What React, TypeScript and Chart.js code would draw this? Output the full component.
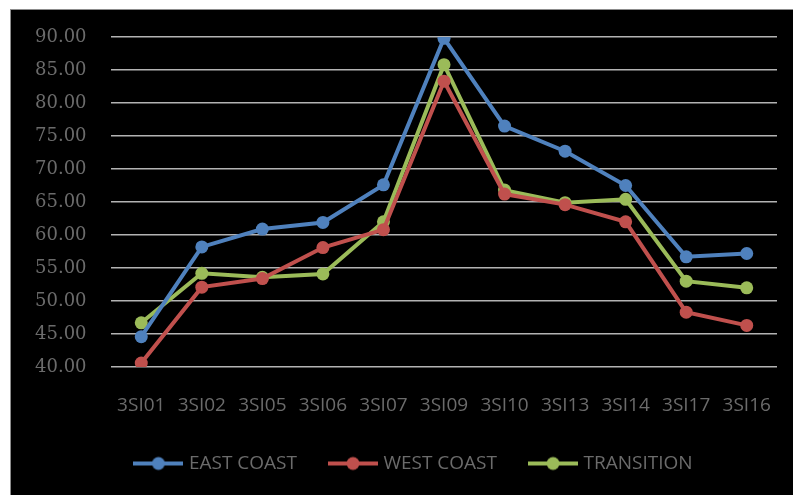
import { useEffect, useRef } from 'react';
import { Chart, registerables } from 'chart.js';

Chart.register(...registerables);

const stations = ['3SI01', '3SI02', '3SI05', '3SI06', '3SI07', '3SI09', '3SI10', '3SI13', '3SI14', '3SI17', '3SI16'];
const eastCoast = [44.6, 58.2, 60.9, 61.9, 67.6, 89.8, 76.5, 72.7, 67.5, 56.7, 57.2];
const westCoast = [40.6, 52.1, 53.4, 58.1, 60.8, 83.3, 66.2, 64.6, 62.0, 48.3, 46.3];
const transition = [46.7, 54.2, 53.6, 54.1, 62.0, 85.8, 66.8, 64.9, 65.4, 53.0, 52.0];

const labelColor = '#6b6b6b';

// line + dot sample used as the legend point style
const legendMarker = (color: string) => {
    const c = document.createElement('canvas');
    c.width = 50;
    c.height = 16;
    const g = c.getContext('2d');
    if (g) {
        g.strokeStyle = color;
        g.lineWidth = 4;
        g.beginPath();
        g.moveTo(0, 8);
        g.lineTo(50, 8);
        g.stroke();
        g.fillStyle = color;
        g.beginPath();
        g.arc(25, 8, 6.5, 0, Math.PI * 2);
        g.fill();
    }
    return c;
};

const series = [
    { label: 'EAST COAST', data: eastCoast, color: '#4f81bd' },
    { label: 'WEST COAST', data: westCoast, color: '#c0504d' },
    { label: 'TRANSITION', data: transition, color: '#9bbb59' },
];

const App = () => {
    const chartRef = useRef<HTMLCanvasElement | null>(null);

    useEffect(() => {
        if (!chartRef.current) return;
        const ctx = chartRef.current.getContext('2d');
        if (!ctx) return;

        const markers = series.map(s => legendMarker(s.color));

        const myChart = new Chart(ctx, {
            type: 'line',
            data: {
                labels: stations,
                datasets: series.map(s => ({
                    label: s.label,
                    data: s.data,
                    borderColor: s.color,
                    backgroundColor: s.color,
                    pointBackgroundColor: s.color,
                    pointBorderWidth: 0,
                    pointRadius: 6.5,
                    borderWidth: 4,
                    tension: 0,
                })),
            },
            options: {
                responsive: false,
                animation: false,
                layout: { padding: { left: 42, right: 16, top: 27, bottom: 12 } },
                scales: {
                    x: {
                        offset: true,
                        grid: { display: false, drawTicks: true, tickLength: 27 },
                        border: { display: false },
                        ticks: {
                            color: labelColor,
                            padding: 0,
                            font: { family: 'Open Sans', size: 19 },
                            maxRotation: 0,
                        },
                        afterFit: (scale) => { scale.height = 52; },
                    },
                    y: {
                        min: 40,
                        max: 90,
                        grid: { color: '#b3b3b3', lineWidth: 1.5, drawTicks: false },
                        border: { display: false },
                        ticks: {
                            stepSize: 5,
                            color: labelColor,
                            mirror: true,
                            padding: -76,
                            font: { family: 'DejaVu Serif', size: 18 },
                            callback: (v) => Number(v).toFixed(2),
                        },
                        afterFit: (scale) => { scale.width = 58; },
                    },
                },
                plugins: {
                    tooltip: { enabled: false },
                    legend: {
                        position: 'bottom',
                        labels: {
                            usePointStyle: true,
                            pointStyleWidth: 42,
                            padding: 35,
                            color: labelColor,
                            font: { family: 'Open Sans', size: 19 },
                            generateLabels: (chart) =>
                                chart.data.datasets.map((ds, i) => ({
                                    text: ds.label as string,
                                    datasetIndex: i,
                                    pointStyle: markers[i],
                                    fillStyle: series[i].color,
                                    strokeStyle: series[i].color,
                                    lineWidth: 0,
                                    fontColor: labelColor,
                                    hidden: false,
                                })),
                        },
                    },
                },
            },
        });

        return () => {
            myChart.destroy();
        };
    }, []);

    return (
        <div style={{ position: 'absolute', left: 10, top: 9, width: 783, height: 486, background: '#000', borderTop: '1px solid #8c8c8c', borderLeft: '1px solid #8c8c8c', boxSizing: 'border-box' }}>
            <canvas ref={chartRef} width={782} height={485}></canvas>
        </div>
    );
};

export default App;
